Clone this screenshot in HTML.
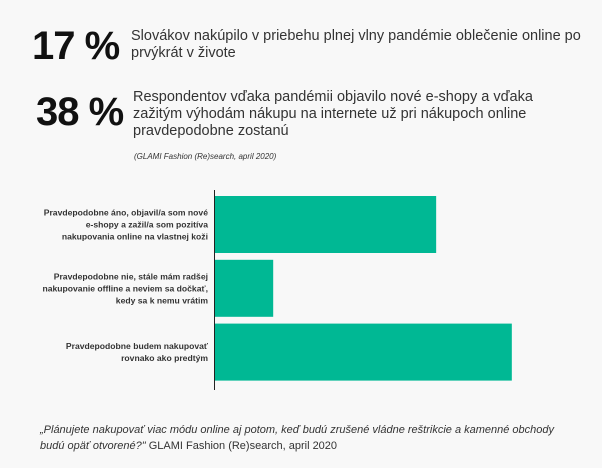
<!DOCTYPE html>
<html><head><meta charset="utf-8"><style>
body{margin:0;width:602px;height:468px;background:#f8f8f8;font-family:"Liberation Sans",sans-serif;color:#222;position:relative;overflow:hidden}
.a{position:absolute;white-space:nowrap}
.big{font-weight:bold;font-size:40px;color:#111;letter-spacing:-1px}
.txt{font-size:14.5px;line-height:17px;color:#333}
.lab{font-size:8.6px;line-height:12px;text-align:right;font-weight:bold;color:#333;letter-spacing:-0.1px}
</style></head><body>
<div class="a big" style="left:32px;top:24px">17 %</div>
<div class="a txt" style="left:131px;top:28px">Slovákov nakúpilo v priebehu plnej vlny pandémie oblečenie online po<br>prvýkrát v živote</div>
<div class="a big" style="left:36px;top:90px">38 %</div>
<div class="a txt" style="left:133px;top:89px">Respondentov vďaka pandémii objavilo nové e-shopy a vďaka<br>zažitým výhodám nákupu na internete už pri nákupoch online<br>pravdepodobne zostanú</div>
<div class="a" style="left:134px;top:152px;font-size:8px;font-style:italic;color:#333">(GLAMI Fashion (Re)search, april 2020)</div>
<svg class="a" style="left:0;top:0" width="602" height="468" id="chart"></svg>
<div class="a" style="left:40px;top:422px;font-size:11px;line-height:16px;color:#333"><i>„Plánujete nakupovať viac módu online aj potom, keď budú zrušené vládne reštrikcie a kamenné obchody<br>budú opäť otvorené?"</i> GLAMI Fashion (Re)search, april 2020</div>
<script>
const categories=[["Pravdepodobne áno, objavil/a som nové","e-shopy a zažil/a som pozitíva","nakupovania online na vlastnej koži"],["Pravdepodobne nie, stále mám radšej","nakupovanie offline a neviem sa dočkať,","kedy sa k nemu vrátim"],["Pravdepodobne budem nakupovať","rovnako ako predtým"]];
const values=[38,10,51];
const svg=document.getElementById('chart');
const NS='http://www.w3.org/2000/svg';
const x0=215,pxPerPct=5.82;
const x=v=>x0+v*pxPerPct;
const bandTop=[196,260,324],bandH=57;
function y(i){return 196+i*63.8;}
values.forEach((v,i)=>{
 const r=document.createElementNS(NS,'rect');
 r.setAttribute('x',x0);r.setAttribute('y',y(i));
 r.setAttribute('width',x(v)-x0);r.setAttribute('height',bandH);
 r.setAttribute('fill','#00b894');
 
 
 svg.appendChild(r);
 const lines=categories[i];
 const cy=y(i)+bandH/2;
 lines.forEach((l,j)=>{
  const t=document.createElementNS(NS,'text');
  t.setAttribute('x',208);
  t.setAttribute('y',cy+(j-(lines.length-1)/2)*12+3);
  t.setAttribute('text-anchor','end');
  t.setAttribute('font-size','8.6');
  t.setAttribute('font-weight','bold');
  t.setAttribute('fill','#333');
  
  
  t.textContent=l;
  svg.appendChild(t);
 });
});
const ax=document.createElementNS(NS,'line');
ax.setAttribute('x1',214.5);ax.setAttribute('x2',214.5);ax.setAttribute('y1',190);ax.setAttribute('y2',390);
ax.setAttribute('stroke','#222');ax.setAttribute('stroke-width','1');


svg.appendChild(ax);
</script>
</body></html>
